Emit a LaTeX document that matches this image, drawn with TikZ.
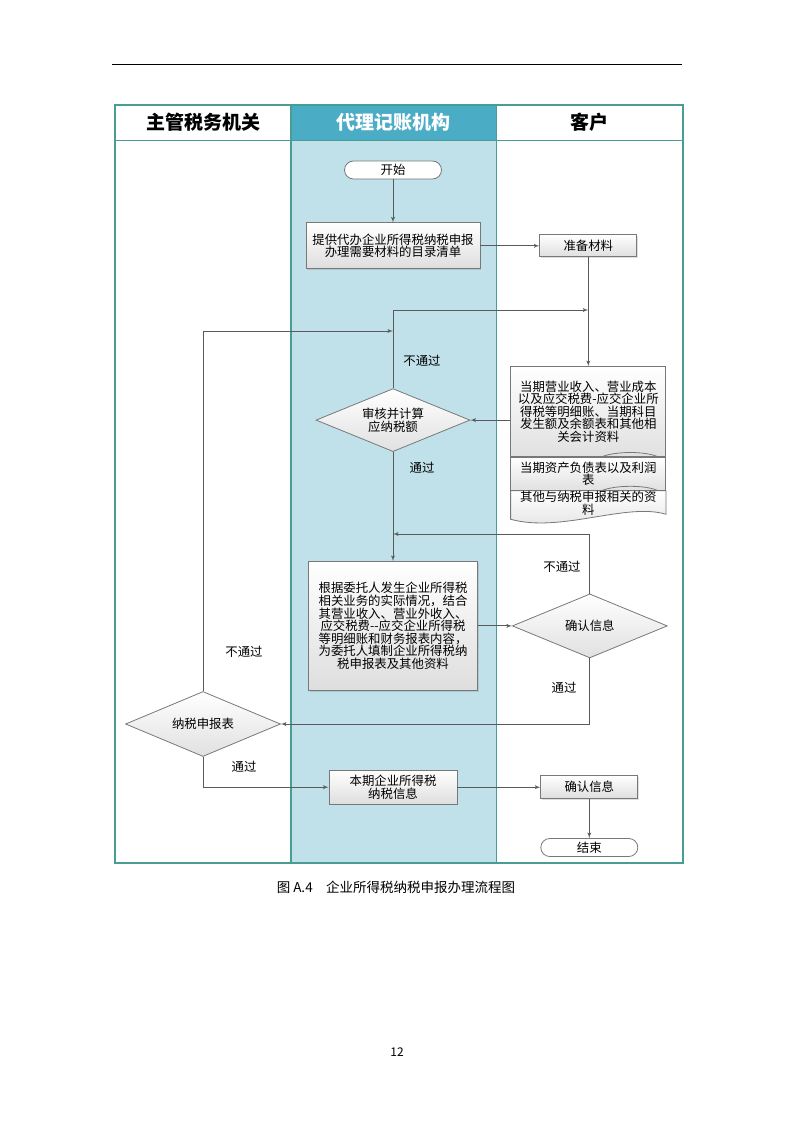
\documentclass[tikz,border=0pt]{standalone}
\usepackage{fontspec}
\setmainfont{Noto Sans CJK SC}
\usepackage{tikz}
\usetikzlibrary{arrows,calc,positioning,shapes.geometric,shadows}
\pgfdeclarelayer{background}
\pgfsetlayers{background,main}
\definecolor{lanefill}{RGB}{192,225,234}
\definecolor{headfill}{RGB}{75,172,198}
\definecolor{laneline}{RGB}{72,158,148}
\definecolor{boxline}{RGB}{120,120,120}
\definecolor{flowline}{RGB}{90,90,90}
\newcommand{\flowfont}{\fontsize{12.4}{12.6}\selectfont}
\tikzset{%
	process/.style  = {draw=boxline, line width=0.8pt, rectangle, top color=white, bottom color=black!13, drop shadow={opacity=0.25, shadow xshift=1.2pt, shadow yshift=-1.2pt}, align=center, inner sep=0pt, font=\flowfont},
	decision/.style = {draw=boxline, line width=0.8pt, diamond, aspect=2.5, top color=white, bottom color=black!12, inner sep=0pt, align=center, font=\flowfont},
	startstop/.style= {draw=boxline, line width=0.8pt, rectangle, rounded corners=9pt, fill=white, minimum width=97pt, minimum height=18pt, inner sep=0pt, font=\flowfont},
	docpart/.style  = {draw=boxline, line width=0.8pt, rectangle, top color=white, bottom color=black!12, minimum width=155pt, align=center, inner sep=0pt, font=\flowfont},
	note/.style     = {font=\flowfont}, % branch labels
	lanehead/.style = {font=\fontsize{19}{19}\selectfont\bfseries},
	arrow/.style    = {draw=flowline, line width=0.9pt, ->, >=latex'},
	waypoint/.style = {coordinate},
}
\begin{document}
\begin{tikzpicture}[x=1pt,y=-1pt]
	\useasboundingbox (0,0) rectangle (794,1123);
	\draw [line width=0.9pt] (112,64) -- (682,64);
	
	% swimlanes
	\fill [lanefill] (291,140) rectangle (496,863);
	\fill [headfill] (291,105) rectangle (496,140);
	\draw [laneline, line width=0.9pt] (115,140) -- (683,140);
	\draw [laneline, line width=1.3pt] (291,105) -- (291,863);
	\draw [laneline, line width=0.9pt] (496,105) -- (496,863);
	\draw [laneline, line width=1.1pt] (115,105) rectangle (683,863);
	\node [lanehead] (taxoffice) at (203,122) {主管税务机关};
	\node [lanehead, text=white] (agency) at (393.5,122) {代理记账机构};
	\node [lanehead] (client) at (589,122) {客户};
	
	\node [startstop] (start) at (393,170) {开始};
	\node [process, minimum width=174pt, minimum height=46pt, below=43pt of start] (list) {提供代办企业所得税纳税申报\\办理需要材料的目录清单};
	\node [process, minimum width=97pt, minimum height=22pt, right=59pt of list] (prep) {准备材料};
	\node [docpart, minimum height=90pt, below=109pt of prep] (doc1) {当期营业收入、营业成本\\以及应交税费-应交企业所\\得税等明细账、当期科目\\发生额及余额表和其他相\\关会计资料};
	\node [docpart, minimum height=33pt, below=0pt of doc1] (doc2) {当期资产负债表以及利润\\表};
	\node [minimum width=155pt, minimum height=24pt, inner sep=0pt, align=center, font=\flowfont, below=0pt of doc2] (doc3) {其他与纳税申报相关的资\\料};
	\begin{pgfonlayer}{background}
		\shadedraw [draw=boxline, line width=0.8pt, top color=white, bottom color=black!12] (doc3.north west) -- (doc3.north east) -- ($(doc3.south east)+(0,-1)$) .. controls +(-40,-12) and +(50,14) .. ($(doc3.south west)+(0,4)$) -- cycle;
	\end{pgfonlayer}
	\draw [boxline, line width=0.8pt] ($(doc1.south east)+(-8,0)$) .. controls +(-12,-6) and +(14,-6) .. ($(doc1.south east)+(-65,0)$);
	\draw [boxline, line width=0.8pt] ($(doc2.south east)+(-8,0)$) .. controls +(-12,-6) and +(14,-6) .. ($(doc2.south east)+(-65,0)$);
	
	\node [decision, minimum width=154pt, minimum height=63pt, below=119pt of list] (check) {审核并计算\\应纳税额};
	\node [process, minimum width=169pt, minimum height=129pt, below=109pt of check] (fill) {根据委托人发生企业所得税\\相关业务的实际情况，结合\\其营业收入、营业外收入、\\应交税费-{}-应交企业所得税\\等明细账和财务报表内容，\\为委托人填制企业所得税纳\\税申报表及其他资料};
	\node [decision, minimum width=155pt, minimum height=64pt, right=34pt of fill] (confirm) {确认信息};
	\node [process, minimum width=128pt, minimum height=34pt, below=79pt of fill] (info) {本期企业所得税\\纳税信息};
	\node [process, minimum width=97pt, minimum height=23pt, right=83pt of info] (confirm2) {确认信息};
	\node [startstop, below=39pt of confirm2] (stop) {结束};
	\node [decision, minimum width=155pt, minimum height=65pt] (report) at (203,724) {纳税申报表};
	
	\node [waypoint] (j1) at (prep.south |- 0,310) {};
	\node [waypoint] (j2) at (check.north |- 0,331) {};
	\node [waypoint] (j3) at (check.south |- 0,534) {};
	
	\draw [arrow] (start) -- (list);
	\draw [arrow] (list) -- (prep);
	\draw [arrow] (prep) -- (doc1);
	\draw [arrow] (check.north) |- (j1);
	\draw [arrow] (report.north) |- (j2);
	\draw [arrow] (doc1.west |- check) -- (check.east);
	\draw [arrow] (check) -- (fill);
	\draw [arrow] (confirm.north) |- (j3);
	\draw [arrow] (fill) -- (confirm);
	\draw [arrow] (confirm.south) |- (report.east);
	\draw [arrow] (report.south) |- (info.west);
	\draw [arrow] (info) -- (confirm2);
	\draw [arrow] (confirm2) -- (stop);
	
	\node [note] (nopass1) at (422,361) {不通过};
	\node [note] (pass1) at (422,468) {通过};
	\node [note] (nopass2) at (562,567) {不通过};
	\node [note] (pass2) at (564,688) {通过};
	\node [note] (nopass3) at (244,652) {不通过};
	\node [note] (pass3) at (244,767) {通过};
	
	\node [font=\fontsize{13.5}{14}\selectfont] (caption) at (396,887) {图 A.4\quad 企业所得税纳税申报办理流程图};
	\node [font=\fontsize{12}{12}\selectfont] (pageno) at (397,1052) {12};
	
\end{tikzpicture}
\end{document}
